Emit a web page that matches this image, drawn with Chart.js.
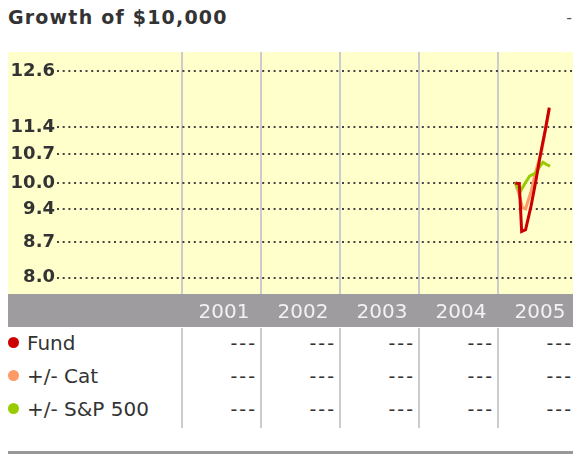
<!DOCTYPE html>
<html>
<head>
<meta charset="utf-8">
<script src="https://cdn.jsdelivr.net/npm/chart.js@4.4.1/dist/chart.umd.min.js"></script>
<style>
  body { margin: 0; background: #fff; font-family: "DejaVu Sans", Verdana, sans-serif; }
  #wrap { position: relative; width: 573px; height: 454px; overflow: hidden; }
  #title { position: absolute; left: 8px; top: 8px; font-size: 19px; line-height: 19px; font-weight: bold; color: #333; letter-spacing: 1.2px; }
  #dash { position: absolute; right: 1px; top: 9px; font-size: 16px; line-height: 18px; color: #555; }
  #growth { position: absolute; left: 8px; top: 52px; }
  .lbl { position: absolute; font-size: 20px; line-height: 20px; color: #333; white-space: nowrap; }
  .dot { position: absolute; width: 11px; height: 11px; border-radius: 50%; }
  .cell { position: absolute; font-size: 19px; line-height: 20px; color: #333; letter-spacing: 2px; text-align: right; width: 70px; }
  .sep { position: absolute; width: 2px; top: 328px; height: 100px; background: #cbcbcb; }
  #bottom { position: absolute; left: 8px; top: 451px; width: 565px; height: 3px; background: #999; }
</style>
</head>
<body>
<div id="wrap">
  <div id="title">Growth of $10,000</div>
  <div id="dash">-</div>
  <canvas id="growth" width="565" height="275"></canvas>
  <div id="bottom"></div>
</div>
<script>
// years shown as columns
var years = [2001, 2002, 2003, 2004, 2005];

// y axis (thousands of dollars), log scale; top label printed as 12.6 in the original
var yTickValues = [8.0, 8.7, 9.4, 10.0, 10.7, 11.4, 13.0];
var yTickLabels = ['8.0', '8.7', '9.4', '10.0', '10.7', '11.4', '12.6'];

// series (x = decimal year)
var fundX = [2005.22, 2005.27, 2005.30, 2005.35, 2005.42, 2005.48, 2005.54, 2005.60, 2005.65];
var fundY = [10.0, 9.98, 8.92, 8.96, 9.48, 10.05, 10.72, 11.34, 11.94];

var catX = [2005.22, 2005.27, 2005.31, 2005.35, 2005.42, 2005.48, 2005.55, 2005.60, 2005.65];
var catY = [10.0, 9.72, 9.43, 9.41, 9.81, 10.28, 10.75, 11.3, 11.9];

var spX = [2005.22, 2005.28, 2005.34, 2005.40, 2005.47, 2005.53, 2005.57, 2005.61, 2005.66];
var spY = [10.0, 9.79, 9.98, 10.16, 10.23, 10.40, 10.50, 10.45, 10.40];

var seriesNames = ['Fund', '+/- Cat', '+/- S&P 500'];
var seriesColors = ['#cc0000', '#ff9966', '#99cc00'];
var tableValues = [
  ['---', '---', '---', '---', '---'],
  ['---', '---', '---', '---', '---'],
  ['---', '---', '---', '---', '---']
];

function pts(xs, ys) {
  return xs.map(function (x, i) { return { x: x, y: ys[i] }; });
}

// yellow plot area + grey year band
var bandPlugin = {
  id: 'band',
  beforeDraw: function (chart) {
    var ctx = chart.ctx, a = chart.chartArea;
    ctx.save();
    ctx.fillStyle = '#ffffcc';
    ctx.fillRect(0, 0, chart.width, a.bottom);
    ctx.fillStyle = '#9e9c9e';
    ctx.fillRect(0, a.bottom, chart.width, chart.height - a.bottom);
    ctx.restore();
  }
};

new Chart(document.getElementById('growth'), {
  type: 'line',
  data: {
    datasets: [
      { label: seriesNames[0], data: pts(fundX, fundY), borderColor: seriesColors[0], borderWidth: 3 },
      { label: seriesNames[2], data: pts(spX, spY), borderColor: seriesColors[2], borderWidth: 3 },
      { label: seriesNames[1], data: pts(catX, catY), borderColor: seriesColors[1], borderWidth: 3 }
    ]
  },
  options: {
    responsive: false,
    animation: false,
    layout: { padding: 0 },
    elements: { point: { radius: 0 }, line: { tension: 0 } },
    plugins: { legend: { display: false }, tooltip: { enabled: false } },
    scales: {
      x: {
        type: 'linear',
        min: 1999.418,
        max: 2005.95,
        afterBuildTicks: function (s) { s.ticks = years.map(function (v) { return { value: v }; }); },
        afterFit: function (s) { s.height = 33; s.paddingLeft = 0; s.paddingRight = 0; },
        grid: { color: '#cccccc', lineWidth: 2, drawTicks: false },
        border: { display: false },
        ticks: {
          autoSkip: false, maxRotation: 0, padding: 7, labelOffset: 42,
          color: '#f2f2f2',
          font: { family: 'DejaVu Sans', size: 20 },
          callback: function (v) { return String(v); }
        }
      },
      y: {
        type: 'logarithmic',
        min: 7.74,
        max: 13.61,
        afterBuildTicks: function (s) { s.ticks = yTickValues.map(function (v) { return { value: v }; }); },
        afterFit: function (s) { s.width = 49; s.paddingTop = 0; s.paddingBottom = 0; },
        grid: { color: '#444', lineWidth: 2, drawTicks: false },
        border: { display: false, dash: [2, 3.7] },
        ticks: {
          padding: 2, color: '#333',
          font: { family: 'DejaVu Sans', size: 18, weight: 'bold' },
          callback: function (v, i) { return yTickLabels[i]; }
        }
      }
    }
  },
  plugins: [bandPlugin]
});

// table rows under the chart
var wrap = document.getElementById('wrap');
var rowTop = [333, 366, 399];
var colEdge = [182, 261, 340, 419, 498, 577];
seriesNames.forEach(function (name, r) {
  var d = document.createElement('div');
  d.className = 'dot';
  d.style.left = '8px';
  d.style.top = (rowTop[r] + 4) + 'px';
  d.style.background = seriesColors[r];
  wrap.appendChild(d);
  var l = document.createElement('div');
  l.className = 'lbl';
  l.style.left = '27px';
  l.style.top = rowTop[r] + 'px';
  l.textContent = name;
  wrap.appendChild(l);
  tableValues[r].forEach(function (val, c) {
    var cell = document.createElement('div');
    cell.className = 'cell';
    cell.style.left = (colEdge[c + 1] - 6 - 70 + 2) + 'px';
    cell.style.top = rowTop[r] + 'px';
    cell.textContent = val;
    wrap.appendChild(cell);
  });
});
for (var i = 0; i < 5; i++) {
  var s = document.createElement('div');
  s.className = 'sep';
  s.style.left = (colEdge[i] - 1) + 'px';
  wrap.appendChild(s);
}
</script>
</body>
</html>
